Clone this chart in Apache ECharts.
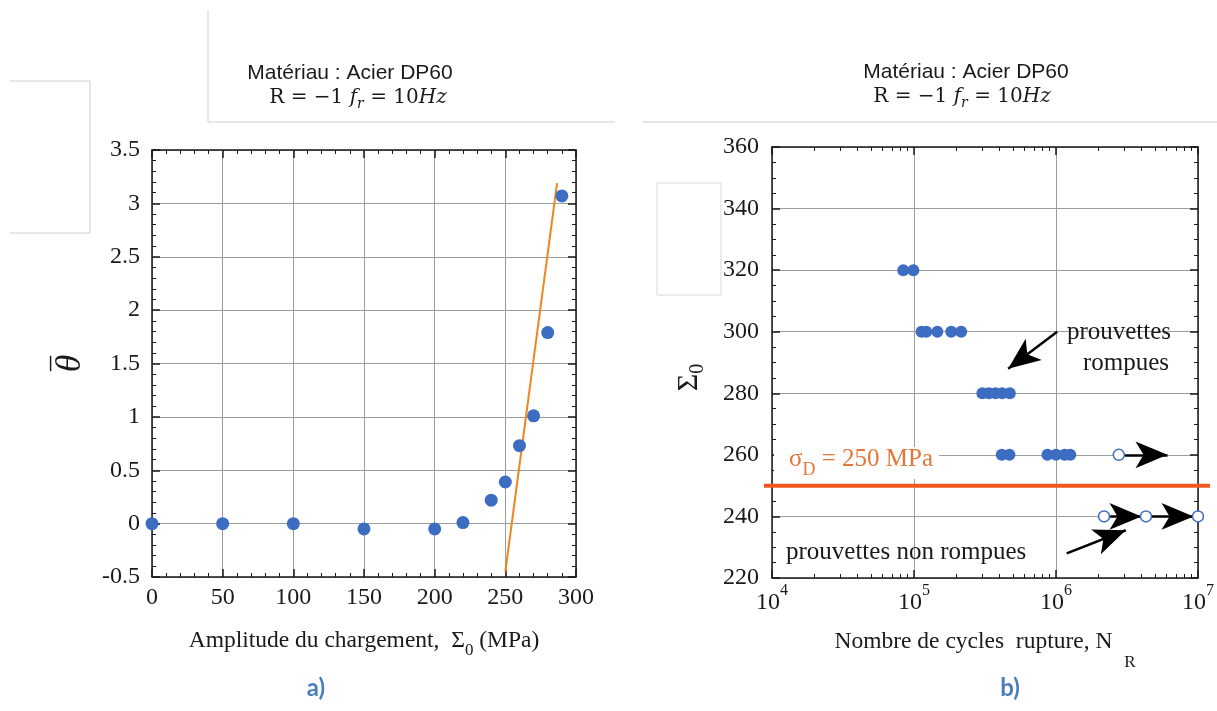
<!DOCTYPE html>
<html>
<head>
<meta charset="utf-8">
<script src="https://cdn.jsdelivr.net/npm/echarts@6.0.0/dist/echarts.min.js"></script>
<style>
html, body { margin: 0; padding: 0; background: #fff; }
#chart { width: 1217px; height: 711px; }
</style>
</head>
<body>
<div id="chart"></div>
<script>
// a) dissipation vs amplitude
var amplitude = [0, 50, 100, 150, 200, 220, 240, 250, 260, 270, 280, 290];
var theta = [0, 0, 0, -0.05, -0.05, 0.01, 0.22, 0.39, 0.73, 1.01, 1.79, 3.07];
var fitAmplitude = [250, 286.6];
var fitTheta = [-0.45, 3.19];
var ampTicks = [0, 300, 50];
var thetaTicks = [-0.5, 3.5, 0.5];

// b) S-N data, stress (MPa) and cycles to failure
var brokenStress = [320, 320, 300, 300, 300, 300, 300, 280, 280, 280, 280, 280, 260, 260, 260, 260, 260, 260];
var brokenCycles = [84000, 99000, 113000, 122000, 146000, 183000, 215000, 303000, 337000, 375000, 418000, 473000, 415000, 470000, 870000, 1000000, 1150000, 1260000];
var runoutStress = [260, 240, 240, 240];
var runoutCycles = [2770000, 2180000, 4300000, 10000000];
var enduranceLimit = 250;
var stressTicks = [220, 360, 20];
var cycleRange = [1e4, 1e7];
// arrows: [x1, y1, x2, y2]
var arrows = [
	[3050000, 260, 6100000, 260],
	[2320000, 240, 4000000, 240],
	[4600000, 240, 9300000, 240],
	[1020000, 300, 460000, 288],
	[1190000, 228, 3100000, 235.5]
];

var BLUE = '#3d6dc2';
var SERIF = '"Liberation Serif", "Times New Roman", serif';

function zip(a, b) {
	var out = [];
	for (var i = 0; i < a.length; i++) out.push([a[i], b[i]]);
	return out;
}

// minor tick positions of the log axis, in log10 space
var logMinor = [];
for (var e = 4; e < 7; e++) {
	for (var k = 2; k <= 9; k++) logMinor.push(e + Math.log10(k));
}

var frameLine = { show: true, onZero: false, lineStyle: { color: '#1a1a1a', width: 1.5 } };
var tick = { show: true, inside: true, length: 8, lineStyle: { color: '#1a1a1a', width: 1.5 } };
var minor = { show: true, splitNumber: 5, length: 4, lineStyle: { color: '#1a1a1a', width: 1 } };
var grid = { show: true, lineStyle: { color: '#9c9c9c', width: 1 } };
var tickLabel = { fontFamily: SERIF, fontSize: 24, color: '#1a1a1a' };

var subRich = {
	t: { fontFamily: SERIF, fontSize: 23.5, color: '#1a1a1a', verticalAlign: 'top' },
	s: { fontFamily: SERIF, fontSize: 17, color: '#1a1a1a', verticalAlign: 'top', padding: [13, 0, 0, 0] },
	r: { fontFamily: SERIF, fontSize: 17, color: '#1a1a1a', verticalAlign: 'top', padding: [24, 0, 0, 0] }
};

var chart = echarts.init(document.getElementById('chart'));

chart.setOption({
	backgroundColor: '#fff',
	animation: false,
	grid: [
		{ left: 152, top: 150, width: 424, height: 427 },
		{ left: 772, top: 147, width: 427, height: 431 },
		{ left: 764, top: 147, width: 446, height: 431 }
	],
	xAxis: [
		{
			gridIndex: 0, type: 'value', position: 'bottom',
			min: ampTicks[0], max: ampTicks[1], interval: ampTicks[2],
			axisLine: frameLine, axisTick: tick, minorTick: minor, splitLine: grid,
			axisLabel: Object.assign({ margin: 9 }, tickLabel),
			name: '{t|Amplitude du chargement,  Σ}{s|0}{t| (MPa)}',
			nameLocation: 'middle', nameGap: 52,
			nameTextStyle: { rich: subRich }
		},
		{
			gridIndex: 0, type: 'value', position: 'top',
			min: ampTicks[0], max: ampTicks[1], interval: ampTicks[2],
			axisLine: frameLine, axisTick: tick, minorTick: minor,
			splitLine: { show: false }, axisLabel: { show: false }
		},
		{
			gridIndex: 1, type: 'log', logBase: 10, position: 'bottom',
			min: cycleRange[0], max: cycleRange[1],
			axisLine: frameLine, axisTick: tick, splitLine: grid,
			axisLabel: {
				margin: 5,
				formatter: function (v) {
					return '{b|10}{e|' + Math.round(Math.log10(v)) + '}';
				},
				rich: {
					b: { fontFamily: SERIF, fontSize: 24, color: '#1a1a1a', verticalAlign: 'top', padding: [8, 0, 0, 0] },
					e: { fontFamily: SERIF, fontSize: 16, color: '#1a1a1a', verticalAlign: 'top' }
				}
			},
			name: '{t|Nombre de cycles  rupture, N  }{r|R}',
			nameLocation: 'middle', nameGap: 52,
			nameTextStyle: { rich: subRich }
		},
		{
			gridIndex: 1, type: 'value', position: 'bottom', min: 4, max: 7,
			axisLine: { show: false },
			axisTick: { show: true, inside: true, length: 4, customValues: logMinor, lineStyle: { color: '#1a1a1a', width: 1 } },
			axisLabel: { show: false }, splitLine: { show: false }
		},
		{
			gridIndex: 1, type: 'log', logBase: 10, position: 'top',
			min: cycleRange[0], max: cycleRange[1],
			axisLine: frameLine, axisTick: tick,
			axisLabel: { show: false }, splitLine: { show: false }
		},
		{
			gridIndex: 1, type: 'value', position: 'top', min: 4, max: 7,
			axisLine: { show: false },
			axisTick: { show: true, inside: true, length: 4, customValues: logMinor, lineStyle: { color: '#1a1a1a', width: 1 } },
			axisLabel: { show: false }, splitLine: { show: false }
		},
		{ gridIndex: 2, type: 'value', min: 0, max: 1, show: false }
	],
	yAxis: [
		{
			gridIndex: 0, type: 'value', position: 'left',
			min: thetaTicks[0], max: thetaTicks[1], interval: thetaTicks[2],
			axisLine: frameLine, axisTick: tick, minorTick: minor, splitLine: grid,
			axisLabel: Object.assign({ margin: 12 }, tickLabel),
			// theta with an overbar, written as two stacked lines
			name: '{bar|–}\n{th|θ}', nameLocation: 'middle', nameGap: 66,
			nameTextStyle: {
				align: 'center',
				rich: {
					bar: { fontFamily: SERIF, fontSize: 30, color: '#1a1a1a', lineHeight: 12, align: 'center' },
					th: { fontFamily: SERIF, fontSize: 36, fontStyle: 'italic', color: '#1a1a1a', lineHeight: 30, align: 'center' }
				}
			}
		},
		{
			gridIndex: 0, type: 'value', position: 'right',
			min: thetaTicks[0], max: thetaTicks[1], interval: thetaTicks[2],
			axisLine: frameLine, axisTick: tick, minorTick: minor,
			splitLine: { show: false }, axisLabel: { show: false }
		},
		{
			gridIndex: 1, type: 'value', position: 'left',
			min: stressTicks[0], max: stressTicks[1], interval: stressTicks[2],
			axisLine: frameLine, axisTick: tick,
			minorTick: { show: true, splitNumber: 4, length: 4, lineStyle: { color: '#1a1a1a', width: 1 } },
			splitLine: grid,
			axisLabel: Object.assign({ margin: 13 }, tickLabel),
			name: '{t|Σ}{s|0}', nameLocation: 'middle', nameGap: 64,
			nameTextStyle: {
				rich: {
					t: { fontFamily: SERIF, fontSize: 30, color: '#1a1a1a', verticalAlign: 'top' },
					s: { fontFamily: SERIF, fontSize: 20, color: '#1a1a1a', verticalAlign: 'top', padding: [14, 30, 0, 0] }
				}
			}
		},
		{
			gridIndex: 1, type: 'value', position: 'right',
			min: stressTicks[0], max: stressTicks[1], interval: stressTicks[2],
			axisLine: frameLine, axisTick: tick,
			minorTick: { show: true, splitNumber: 4, length: 4, lineStyle: { color: '#1a1a1a', width: 1 } },
			splitLine: { show: false }, axisLabel: { show: false }
		},
		{ gridIndex: 2, type: 'value', min: stressTicks[0], max: stressTicks[1], show: false }
	],
	series: [
		{
			type: 'line', xAxisIndex: 0, yAxisIndex: 0,
			data: zip(fitAmplitude, fitTheta),
			symbol: 'none', z: 3,
			lineStyle: { color: '#f0841f', width: 2 }
		},
		{
			type: 'scatter', xAxisIndex: 0, yAxisIndex: 0,
			data: zip(amplitude, theta),
			symbolSize: 13, z: 4,
			itemStyle: { color: BLUE, opacity: 1 }
		},
		{
			// endurance limit, a bit wider than the frame
			type: 'line', xAxisIndex: 6, yAxisIndex: 4,
			data: [[0, enduranceLimit], [1, enduranceLimit]],
			symbol: 'none', z: 5,
			lineStyle: { color: '#f2581e', width: 4 }
		},
		{
			type: 'scatter', xAxisIndex: 2, yAxisIndex: 2,
			data: zip(brokenCycles, brokenStress),
			symbolSize: 12, z: 4,
			itemStyle: { color: BLUE, opacity: 1 }
		},
		{
			type: 'line', xAxisIndex: 2, yAxisIndex: 2, data: [], z: 3,
			markLine: {
				silent: true, animation: false,
				symbol: ['none', 'arrow'],
				label: { show: false },
				lineStyle: { color: '#000', width: 2.5, type: 'solid' },
				emphasis: { disabled: true },
				data: arrows.map(function (a) {
					return [
						{ coord: [a[0], a[1]], symbol: 'none' },
						{ coord: [a[2], a[3]], symbol: 'arrow', symbolSize: [20, 32] }
					];
				})
			}
		},
		{
			type: 'scatter', xAxisIndex: 2, yAxisIndex: 2,
			data: zip(runoutCycles, runoutStress),
			symbolSize: 11, z: 6,
			itemStyle: { color: '#fff', borderColor: BLUE, borderWidth: 1.5, opacity: 1 }
		}
	],
	graphic: [
		// frame lines left over from the source document
		{ type: 'line', shape: { x1: 208, y1: 10, x2: 208, y2: 122 }, style: { stroke: '#cfcfcf', lineWidth: 1 } },
		{ type: 'line', shape: { x1: 208, y1: 122, x2: 615, y2: 122 }, style: { stroke: '#cfcfcf', lineWidth: 1 } },
		{ type: 'polyline', shape: { points: [[10, 81], [90, 81], [90, 233], [10, 233]] }, style: { stroke: '#cfcfcf', lineWidth: 1, fill: null } },
		{ type: 'line', shape: { x1: 643, y1: 122, x2: 1217, y2: 122 }, style: { stroke: '#cfcfcf', lineWidth: 1 } },
		{ type: 'rect', shape: { x: 657, y: 183, width: 64, height: 112 }, style: { stroke: '#d8d8d8', lineWidth: 1, fill: null } },

		// titles
		{ type: 'text', x: 350, y: 73, style: { text: 'Matériau : Acier DP60', font: '21px "Liberation Sans", Arial, sans-serif', fill: '#1a1a1a', align: 'center', verticalAlign: 'middle' } },
		{ type: 'text', x: 966, y: 72, style: { text: 'Matériau : Acier DP60', font: '21px "Liberation Sans", Arial, sans-serif', fill: '#1a1a1a', align: 'center', verticalAlign: 'middle' } },
		{ type: 'text', x: 358, y: 88, style: makeFormula() },
		{ type: 'text', x: 962, y: 87, style: makeFormula() },

		// annotations of plot b
		{ type: 'text', x: 1119, y: 332, style: { text: 'prouvettes', font: '25px ' + SERIF, fill: '#1a1a1a', align: 'center', verticalAlign: 'middle' }, z: 20 },
		{ type: 'text', x: 1126, y: 363, style: { text: 'rompues', font: '25px ' + SERIF, fill: '#1a1a1a', align: 'center', verticalAlign: 'middle' }, z: 20 },
		{ type: 'text', x: 786, y: 552, style: { text: 'prouvettes non rompues', font: '25px ' + SERIF, fill: '#1a1a1a', align: 'left', verticalAlign: 'middle' }, z: 20 },
		{
			type: 'text', x: 774, y: 447, z: 20,
			style: {
				text: '{g|σ}{d|D}{g| = 250 MPa}',
				backgroundColor: '#fff', padding: [0, 6, 0, 15],
				rich: {
					g: { fontFamily: SERIF, fontSize: 25, fill: '#e5763a', verticalAlign: 'top' },
					d: { fontFamily: SERIF, fontSize: 18, fill: '#e5763a', verticalAlign: 'top', padding: [14, 0, 0, 0] }
				}
			}
		},

		// panel letters
		{ type: 'text', x: 316, y: 688, style: { text: 'a)', font: 'bold 24px Lato, "Open Sans", sans-serif', fill: '#4a7ebb', align: 'center', verticalAlign: 'middle' } },
		{ type: 'text', x: 1010, y: 688, style: { text: 'b)', font: 'bold 24px Lato, "Open Sans", sans-serif', fill: '#4a7ebb', align: 'center', verticalAlign: 'middle' } }
	]
});

function makeFormula() {
	return {
		text: '{n|R = −1 }{i|f}{s|r}{n| = 10}{i|Hz}',
		align: 'center',
		rich: {
			n: { fontFamily: '"DejaVu Serif", serif', fontSize: 20, fill: '#1a1a1a', verticalAlign: 'top' },
			i: { fontFamily: '"DejaVu Serif", serif', fontSize: 20, fontStyle: 'italic', fill: '#1a1a1a', verticalAlign: 'top' },
			s: { fontFamily: '"DejaVu Serif", serif', fontSize: 14, fontStyle: 'italic', fill: '#1a1a1a', verticalAlign: 'top', padding: [9, 0, 0, 0] }
		}
	};
}
</script>
</body>
</html>
